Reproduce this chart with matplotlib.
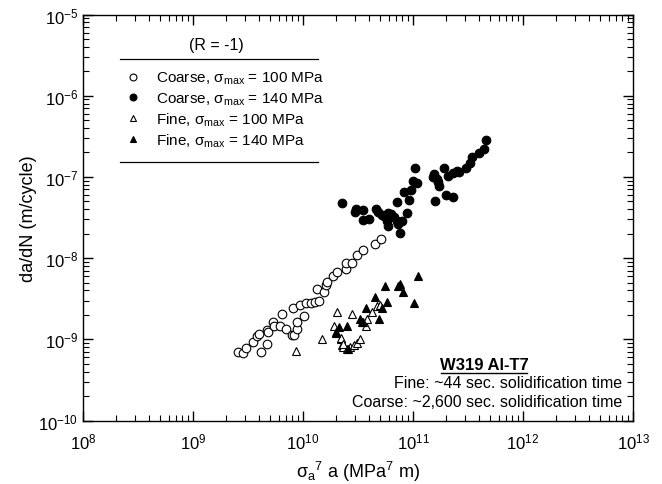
import matplotlib
matplotlib.use("Agg")
import matplotlib.pyplot as plt
from matplotlib.lines import Line2D
from matplotlib.ticker import LogLocator, NullFormatter, FixedLocator, FixedFormatter

plt.rcParams['font.family'] = ['Liberation Sans', 'DejaVu Sans']
plt.rcParams['mathtext.fontset'] = 'custom'
plt.rcParams['mathtext.rm'] = 'Liberation Sans'
plt.rcParams['mathtext.it'] = 'Liberation Sans:italic'
plt.rcParams['mathtext.default'] = 'regular'

# Coarse, sigma_max = 100 MPa (open circles)
coarse100_x = [2.58e9, 2.83e9, 3.03e9, 3.53e9, 3.79e9, 4.01e9, 4.12e9, 4.68e9, 4.84e9, 4.73e9,
               5.37e9, 5.45e9, 6.18e9, 6.40e9, 7.00e9, 7.89e9, 8.28e9, 8.77e9, 8.87e9, 1.02e10,
               8.05e9, 9.39e9, 1.06e10, 1.17e10, 1.29e10, 1.41e10, 1.33e10, 1.55e10, 1.62e10, 1.66e10,
               1.88e10, 2.02e10, 2.46e10, 2.46e10, 2.77e10, 3.08e10, 3.49e10, 4.52e10, 5.08e10]
coarse100_y = [7.03e-10, 6.78e-10, 7.74e-10, 9.18e-10, 1.107e-9, 1.16e-9, 7.03e-10, 1.31e-9, 1.22e-9, 8.75e-10,
               1.65e-9, 1.45e-9, 1.45e-9, 2.05e-9, 1.34e-9, 1.13e-9, 1.13e-9, 1.34e-9, 1.65e-9, 1.95e-9,
               2.41e-9, 2.64e-9, 2.80e-9, 2.80e-9, 2.86e-9, 2.99e-9, 4.16e-9, 3.86e-9, 4.67e-9, 5.04e-9,
               6.07e-9, 6.68e-9, 7.34e-9, 8.71e-9, 8.71e-9, 1.09e-8, 1.27e-8, 1.49e-8, 1.72e-8]

# Coarse, sigma_max = 140 MPa (filled circles)
coarse140_x = [2.25e10, 2.97e10, 3.03e10, 3.49e10, 3.53e10, 4.01e10, 4.61e10, 4.84e10, 5.19e10, 5.45e10,
               5.96e10, 6.27e10, 5.83e10, 5.96e10, 6.71e10, 7.11e10, 7.35e10, 7.89e10, 7.62e10, 8.77e10,
               7.19e10, 8.28e10, 9.20e10, 9.53e10, 1.01e11, 1.09e11, 1.05e11, 1.51e11, 1.55e11, 1.64e11,
               1.70e11, 1.73e11, 1.58e11, 1.91e11, 2.00e11, 2.30e11, 2.09e11, 2.32e11, 2.53e11, 2.64e11,
               3.03e11, 3.30e11, 3.46e11, 3.98e11, 4.42e11, 4.61e11]
coarse140_y = [4.73e-8, 3.72e-8, 4.03e-8, 3.94e-8, 2.97e-8, 3.03e-8, 4.03e-8, 3.66e-8, 3.40e-8, 3.33e-8,
               3.59e-8, 3.49e-8, 2.89e-8, 2.51e-8, 3.18e-8, 2.89e-8, 2.63e-8, 2.89e-8, 2.04e-8, 3.59e-8,
               4.86e-8, 6.46e-8, 5.20e-8, 6.90e-8, 8.98e-8, 8.34e-8, 1.28e-7, 9.89e-8, 1.09e-7, 9.42e-8,
               8.57e-8, 7.80e-8, 5.09e-8, 1.28e-7, 5.98e-8, 5.70e-8, 1.04e-7, 1.11e-7, 1.19e-7, 1.16e-7,
               1.28e-7, 1.48e-7, 1.74e-7, 1.97e-7, 2.21e-7, 2.85e-7]

# Fine, sigma_max = 100 MPa (open triangles)
fine100_x = [8.63e9, 1.50e10, 2.02e10, 2.77e10, 1.91e10, 2.21e10, 2.25e10, 2.32e10, 2.49e10, 2.67e10,
             2.91e10, 3.08e10, 3.30e10, 3.74e10, 3.85e10, 4.22e10, 4.68e10, 5.01e10, 3.53e10, 2.20e10,
             2.32e10]
fine100_y = [7.24e-10, 1.01e-9, 2.19e-9, 2.05e-9, 1.47e-9, 1.01e-9, 8.51e-10, 7.96e-10, 7.60e-10, 7.96e-10,
             8.51e-10, 9.00e-10, 1.01e-9, 1.45e-9, 1.78e-9, 2.19e-9, 2.55e-9, 2.64e-9, 1.62e-9, 1.03e-9,
             8.75e-10]

# Fine, sigma_max = 140 MPa (filled triangles)
fine140_x = [2.00e10, 2.14e10, 2.49e10, 3.30e10, 3.42e10, 3.74e10, 4.52e10, 4.94e10, 5.26e10, 5.77e10,
             5.56e10, 7.35e10, 7.62e10, 8.17e10, 1.03e11, 1.12e11, 2.58e10, 2.00e10]
fine140_y = [1.24e-9, 1.41e-9, 1.47e-9, 1.78e-9, 1.62e-9, 2.41e-9, 3.29e-9, 1.78e-9, 2.43e-9, 2.90e-9,
             4.50e-9, 4.57e-9, 4.80e-9, 3.79e-9, 2.77e-9, 6.07e-9, 7.60e-10, 1.20e-9]

x_ticks = [1e8, 1e9, 1e10, 1e11, 1e12, 1e13]
x_labels = ['$10^{8}$', '$10^{9}$', '$10^{10}$', '$10^{11}$', '$10^{12}$', '$10^{13}$']
y_ticks = [1e-10, 1e-9, 1e-8, 1e-7, 1e-6, 1e-5]
y_labels = ['$10^{-10}$', '$10^{-9}$', '$10^{-8}$', '$10^{-7}$', '$10^{-6}$', '$10^{-5}$']

labels = ['Coarse, $σ_{max}$ = 100 MPa', 'Coarse, $σ_{max}$ = 140 MPa',
          'Fine, $σ_{max}$ = 100 MPa', 'Fine, $σ_{max}$ = 140 MPa']

fig = plt.figure(figsize=(6.62, 4.85), dpi=100)
ax = fig.add_axes([0.1254, 0.1309, 0.8308, 0.8371])
ax.set_xscale('log')
ax.set_yscale('log')
ax.set_xlim(1e8, 1e13)
ax.set_ylim(1e-10, 1e-5)

ms_c = 6.2
ms_t = 6.0
ax.plot(coarse100_x, coarse100_y, 'o', ms=ms_c, mfc='white', mec='black', mew=0.8, ls='none', label=labels[0])
ax.plot(coarse140_x, coarse140_y, 'o', ms=ms_c, mfc='black', mec='black', mew=0.8, ls='none', label=labels[1])
ax.plot(fine100_x, fine100_y, '^', ms=ms_t, mfc='white', mec='black', mew=0.8, ls='none', label=labels[2])
ax.plot(fine140_x, fine140_y, '^', ms=ms_t, mfc='black', mec='black', mew=0.8, ls='none', label=labels[3])

ax.xaxis.set_major_locator(FixedLocator(x_ticks))
ax.xaxis.set_major_formatter(FixedFormatter(x_labels))
ax.yaxis.set_major_locator(FixedLocator(y_ticks))
ax.yaxis.set_major_formatter(FixedFormatter(y_labels))
ax.xaxis.set_minor_locator(LogLocator(base=10, subs=range(2, 10), numticks=20))
ax.yaxis.set_minor_locator(LogLocator(base=10, subs=range(2, 10), numticks=20))
ax.xaxis.set_minor_formatter(NullFormatter())
ax.yaxis.set_minor_formatter(NullFormatter())
ax.tick_params(which='both', direction='in', top=True, right=True, labelsize=12)
ax.tick_params(which='major', length=7, width=1)
ax.tick_params(which='minor', length=4, width=0.8)
ax.tick_params(axis='x', which='major', pad=8)
for s in ax.spines.values():
    s.set_linewidth(1.0)

ax.set_xlabel('$σ_a{}^7$ a (MPa$^7$ m)', fontsize=13, labelpad=5)
ax.set_ylabel('da/dN (m/cycle)', fontsize=13, labelpad=1)

# legend
leg = ax.legend(loc='upper left', bbox_to_anchor=(0.0687, 0.8746), frameon=False, fontsize=11,
                handlelength=1.0, handletextpad=1.0, labelspacing=0.25, borderaxespad=0.0,
                borderpad=0.3, markerscale=0.8)
ax.add_line(Line2D([0.0673, 0.4273], [0.8904, 0.8904], transform=ax.transAxes, color='black', lw=0.9))
ax.add_line(Line2D([0.0673, 0.4273], [0.6367, 0.6367], transform=ax.transAxes, color='black', lw=0.9))
ax.text(0.2418, 0.9273, '(R = -1)', transform=ax.transAxes, ha='center', va='center', fontsize=11.5)

# annotation
ax.text(0.729, 0.139, 'W319 Al-T7', transform=ax.transAxes, ha='center', va='center',
        fontsize=12, fontweight='bold')
ax.add_line(Line2D([0.650, 0.807], [0.116, 0.116], transform=ax.transAxes, color='black', lw=1.0))
ax.text(0.98, 0.0946, 'Fine: ~44 sec. solidification time', transform=ax.transAxes,
        ha='right', va='center', fontsize=11.5)
ax.text(0.98, 0.048, 'Coarse: ~2,600 sec. solidification time', transform=ax.transAxes,
        ha='right', va='center', fontsize=11.5)

fig.savefig('out.png', dpi=100)
